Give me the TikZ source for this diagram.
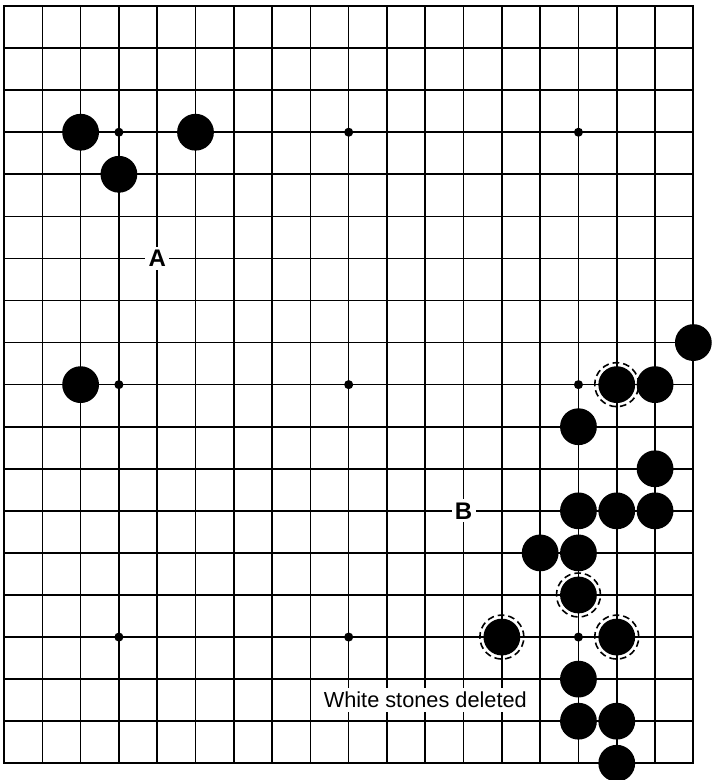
\documentclass[tikz,border=0pt]{standalone}
\usepackage{fontspec}
\setmainfont{Liberation Sans}
\usetikzlibrary{positioning}

\tikzset{
  stone/.style={fill=black},
  ring/.style={dash pattern=on 5pt off 3pt, line width=1.2pt},
  pointlabel/.style={fill=white, inner sep=2.5pt, font=\fontsize{18}{18}\selectfont\bfseries},
  note/.style={fill=white, inner xsep=5pt, inner ysep=3pt, font=\fontsize{16.3}{16.3}\selectfont}
}

\begin{document}
\begin{tikzpicture}[x=28.72pt, y=-31.55pt, line width=1.2pt]
\useasboundingbox (-0.105,-0.143) rectangle (18.49,18.398);
% board
\foreach \i in {0,...,18} {
  \draw (\i,0) -- (\i,18);
  \draw (0,\i) -- (18,\i);
}
\draw[line width=1.4pt] (0,0) rectangle (18,18);
% star points
\foreach \x/\y in {3/3,9/3,15/3,3/9,9/9,15/9,3/15,9/15,15/15}
  \fill (\x,\y) circle (3.4pt);
% black stones
\foreach \x/\y in {2/3,5/3,3/4,2/9,18/8,16/9,17/9,15/10,17/11,15/12,16/12,17/12,
                   14/13,15/13,15/14,13/15,16/15,15/16,15/17,16/17,16/18}
  \fill[stone] (\x,\y) circle (13.8pt);
% stones left after deleting white
\foreach \x/\y in {16/9,15/14,13/15,16/15}
  \draw[ring] (\x,\y) circle (16.5pt);
\node[pointlabel] (A) at (4,6) {A};
\node[pointlabel] (B) at (12,12) {B};
\node[note] (deleted) at (11,16.5) {White stones deleted};
\end{tikzpicture}
\end{document}
